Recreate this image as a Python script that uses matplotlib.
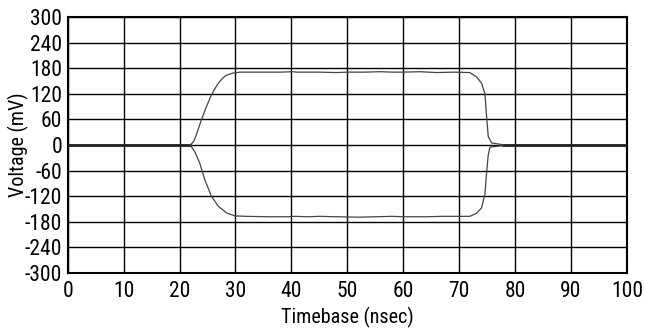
import numpy as np
import matplotlib
matplotlib.use("Agg")
import matplotlib.pyplot as plt

plt.rcParams['font.family'] = ['Roboto Condensed', 'DejaVu Sans']
plt.rcParams['axes.unicode_minus'] = False

# upper trace (rise, flat top, fall)
t_up = [21.9, 22.5, 23.0, 23.9, 24.8, 25.7, 26.3, 27.0, 27.7, 28.4, 29.6, 30.8, 34, 38, 40.2, 41, 45,
        48, 50, 53, 56, 58, 60, 63, 66, 69, 71.9, 73.1, 74.0, 74.6, 74.9, 75.2, 75.8, 77.8]
v_up = [0, 8, 24, 59, 90, 118, 132, 146, 157, 164, 169, 171, 171, 171, 172, 171, 171,
        170, 171, 171, 172, 171, 171, 172, 170, 171, 170, 160, 145, 121, 67, 20, 5, 1]

# lower trace (mirror, slightly smaller amplitude)
t_lo = [21.9, 22.7, 23.6, 24.5, 25.7, 26.9, 28.4, 29.9, 32, 36, 39.5, 40.5, 43, 45,
        48, 52, 55, 58, 60, 64, 67, 71.9, 73.1, 74.0, 74.6, 74.9, 75.2, 75.5, 77.8]
v_lo = [0, -15, -42, -81, -120, -143, -159, -166, -167, -168, -168, -167, -168, -167,
        -168, -169, -168, -167, -168, -168, -167, -167, -160, -147, -116, -65, -23, -5, -1]

# settled baseline before and after the pulse
base_t = [[0, 21.9], [77.8, 100]]

fig = plt.figure(figsize=(6.45, 3.29), dpi=100)
ax = fig.add_axes([0.105, 0.170, 0.867, 0.778])

for seg in base_t:
    ax.plot(seg, [0, 0], color='#222222', lw=2.0, zorder=3)
ax.plot(t_up, v_up, color='#444444', lw=0.9, zorder=3)
ax.plot(t_lo, v_lo, color='#444444', lw=0.9, zorder=3)

ax.set_xlim(0, 100)
ax.set_ylim(-300, 300)
ax.set_xticks(np.arange(0, 101, 10))
ax.set_yticks(np.arange(-300, 301, 60))
ax.grid(True, color='black', lw=1.0)
ax.tick_params(length=0, labelsize=15.5)
ax.tick_params(axis='y', pad=4)
ax.tick_params(axis='x', pad=6)
for s in ax.spines.values():
    s.set_linewidth(1.5)
    s.set_color('black')

ax.set_xlabel('Timebase (nsec)', fontsize=14.5, labelpad=3)
ax.set_ylabel('Voltage (mV)', fontsize=14.5, labelpad=-3)

fig.savefig('out.png', dpi=100)
